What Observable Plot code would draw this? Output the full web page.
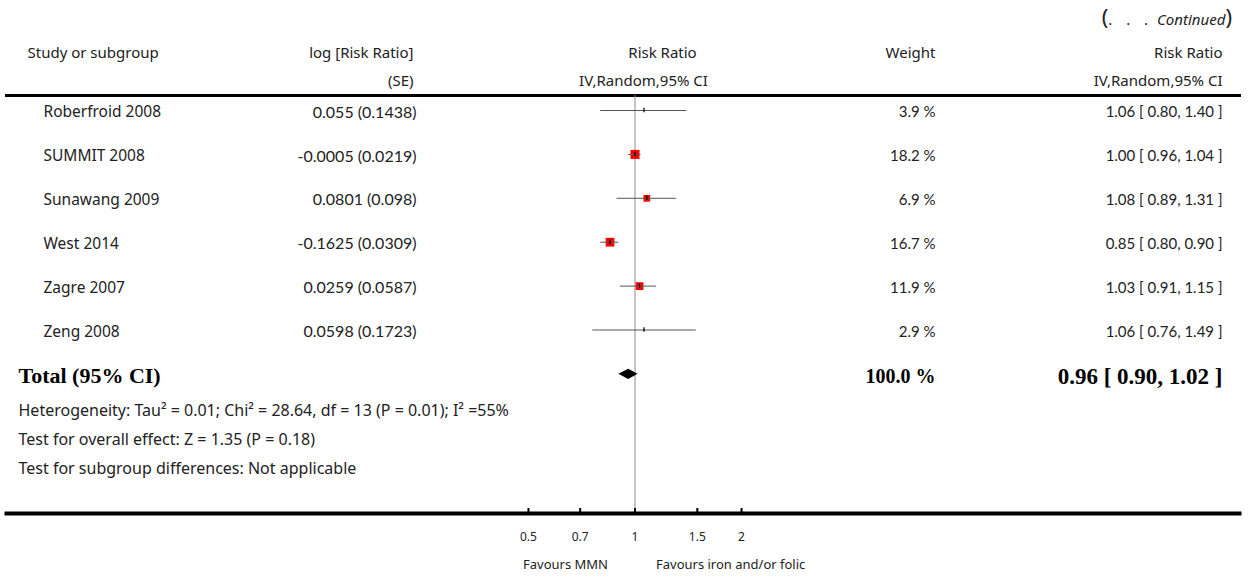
<!DOCTYPE html>
<html><head><meta charset="utf-8">
<script src="https://cdn.jsdelivr.net/npm/d3@7"></script>
<script src="https://cdn.jsdelivr.net/npm/@observablehq/plot@0.6"></script>
<style>
body{margin:0;background:#fff;}
#wrap{position:relative;width:1250px;height:583px;}
#cont{position:absolute;right:18px;top:1px;font-family:'Noto Sans',sans-serif;font-size:15px;color:#222;white-space:nowrap;}
#cont .p{font-size:22px;}
#cont .d{letter-spacing:5px;}
</style></head><body>
<div id="wrap"><div id="cont"><span class="p">(</span><span class="d">. . .</span> <i>Continued</i><span class="p">)</span></div></div>
<script>
// ---- data ----
const studies = ["Roberfroid 2008","SUMMIT 2008","Sunawang 2009","West 2014","Zagre 2007","Zeng 2008"];
const logRR = [0.055, -0.0005, 0.0801, -0.1625, 0.0259, 0.0598];
const seLog = [0.1438, 0.0219, 0.098, 0.0309, 0.0587, 0.1723];
const weights = [3.9, 18.2, 6.9, 16.7, 11.9, 2.9];
const rr = [1.06, 1.00, 1.08, 0.85, 1.03, 1.06];
const rrLo = [0.80, 0.96, 0.89, 0.80, 0.91, 0.76];
const rrHi = [1.40, 1.04, 1.31, 0.90, 1.15, 1.49];
const totalLabel = "Total (95% CI)";
const totalWeight = 100.0;
const totalRR = 0.96, totalLo = 0.90, totalHi = 1.02;
const footnotes = [
  "Heterogeneity: Tau\u00B2 = 0.01; Chi\u00B2 = 28.64, df = 13 (P = 0.01); I\u00B2 =55%",
  "Test for overall effect: Z = 1.35 (P = 0.18)",
  "Test for subgroup differences: Not applicable"
];
const xTicks = [0.5, 0.7, 1, 1.5, 2];
const favLeft = "Favours MMN", favRight = "Favours iron and/or folic";

// ---- layout ----
const W = 1250, H = 583, mTop = 95, mBottom = 70, mLeft = 6, mRight = 11;
const cx = 634.5, kx = 153.7;                 // px of RR=1, px per ln unit
const xDomain = [Math.exp((mLeft - cx) / kx), Math.exp((W - mRight - cx) / kx)];
const yDomain = [-0.342, 9.18];
const totalY = 6.01;
const footY = [6.81, 7.49, 8.15];
const sans = "'Noto Sans', sans-serif";
const num = "Lato, sans-serif";
const serif = "'Liberation Serif', 'Times New Roman', serif";
const ink = "#222";

const fmt2 = v => v.toFixed(2);
const rows = studies.map((s, i) => ({
  i, study: s,
  est: `${logRR[i]} (${seLog[i]})`,
  w: weights[i], rr: rr[i], lo: rrLo[i], hi: rrHi[i],
  wTxt: `${weights[i].toFixed(1)} %`,
  ciTxt: `${fmt2(rr[i])} [ ${fmt2(rrLo[i])}, ${fmt2(rrHi[i])} ]`
}));
const diamond = [
  {y: totalY - 0.115, x1: totalRR, x2: totalRR},
  {y: totalY, x1: totalLo, x2: totalHi},
  {y: totalY + 0.115, x1: totalRR, x2: totalRR}
];
const foot = footnotes.map((t, j) => ({t, y: footY[j]}));

const headers = [
  {t: "Study or subgroup", dx: 21, dy: -48, a: "start"},
  {t: "log [Risk Ratio]", dx: 407, dy: -48, a: "end"},
  {t: "(SE)", dx: 407, dy: -20, a: "end"},
  {t: "Risk Ratio", dx: 656, dy: -48, a: "middle"},
  {t: "IV,Random,95% CI", dx: 637, dy: -20, a: "middle"},
  {t: "Weight", dx: 929, dy: -48, a: "end"},
  {t: "Risk Ratio", dx: 1216, dy: -48, a: "end"},
  {t: "IV,Random,95% CI", dx: 1216, dy: -20, a: "end"}
];

const plot = Plot.plot({
  width: W, height: H,
  marginTop: mTop, marginBottom: mBottom, marginLeft: mLeft, marginRight: mRight,
  style: {fontFamily: sans, fontSize: "15px", color: ink, background: "#fff", overflow: "visible"},
  x: {type: "log", domain: xDomain, axis: null},
  y: {domain: yDomain, reverse: true, axis: null},
  r: {type: "linear", domain: [3.9, 6.9, 18.2], range: [0.6, 3.8, 5.1], clamp: true},
  marks: [
    Plot.frame({anchor: "top", strokeWidth: 3, stroke: "#000"}),
    Plot.frame({anchor: "bottom", strokeWidth: 4, stroke: "#000"}),
    Plot.ruleX([1], {stroke: "#8a8a8a", strokeWidth: 1}),
    Plot.dot(rows, {x: "rr", y: "i", r: "w", symbol: "square", fill: "#ff0000", stroke: null}),
    Plot.ruleY(rows, {y: "i", x1: "lo", x2: "hi", stroke: "#555", strokeWidth: 1}),
    Plot.ruleX(rows, {x: "rr", y1: d => d.i - 0.05, y2: d => d.i + 0.05, stroke: "#000", strokeWidth: 1.2}),
    Plot.areaX(diamond, {y: "y", x1: "x1", x2: "x2", fill: "#000"}),
    // axis ticks & labels
    Plot.ruleX(xTicks, {x: d => d, insetTop: 413, stroke: "#000", strokeWidth: 2}),
    Plot.text(xTicks, {x: d => d, text: d => String(d), frameAnchor: "bottom", dy: 27, fontSize: 12, fill: ink}),
    Plot.text([favLeft], {x: () => 1, text: d => d, frameAnchor: "bottom", dy: 55, dx: -27, textAnchor: "end", fontSize: 13, fill: ink}),
    Plot.text([favRight], {x: () => 1, text: d => d, frameAnchor: "bottom", dy: 55, dx: 21, textAnchor: "start", fontSize: 13, fill: ink}),
    // headers
    ...headers.map(h => Plot.text([h], {text: "t", frameAnchor: "top-left", dx: h.dx, dy: h.dy, textAnchor: h.a, fill: ink})),
    // study columns
    Plot.text(rows, {y: "i", text: "study", frameAnchor: "left", dx: 37, dy: 2, textAnchor: "start", fontSize: 15.5, fill: ink}),
    Plot.text(rows, {y: "i", text: "est", frameAnchor: "left", dx: 410, dy: 2, textAnchor: "end", fontFamily: num, fontSize: 16, fill: ink}),
    Plot.text(rows, {y: "i", text: "wTxt", frameAnchor: "left", dx: 929, dy: 2, textAnchor: "end", fontFamily: num, fill: ink}),
    Plot.text(rows, {y: "i", text: "ciTxt", frameAnchor: "left", dx: 1216, dy: 2, textAnchor: "end", fontFamily: num, fill: ink}),
    // total row
    Plot.text([totalLabel], {y: () => totalY, text: d => d, frameAnchor: "left", dx: 12, dy: 2, textAnchor: "start",
      fontFamily: serif, fontWeight: "bold", fontSize: 22, fill: "#000"}),
    Plot.text([totalWeight], {y: () => totalY, text: d => `${d.toFixed(1)} %`, frameAnchor: "left", dx: 929, dy: 2, textAnchor: "end",
      fontFamily: serif, fontWeight: "bold", fontSize: 20, fill: "#000"}),
    Plot.text([[totalRR, totalLo, totalHi]], {y: () => totalY, text: d => `${fmt2(d[0])} [ ${fmt2(d[1])}, ${fmt2(d[2])} ]`, frameAnchor: "left", dx: 1216, dy: 2, textAnchor: "end",
      fontFamily: serif, fontWeight: "bold", fontSize: 23, fill: "#000"}),
    // footnotes
    Plot.text(foot, {y: "y", text: "t", frameAnchor: "left", dx: 12, dy: 1, textAnchor: "start", fontSize: 16, fill: ink})
  ]
});
document.getElementById("wrap").prepend(plot);
</script>
</body></html>
